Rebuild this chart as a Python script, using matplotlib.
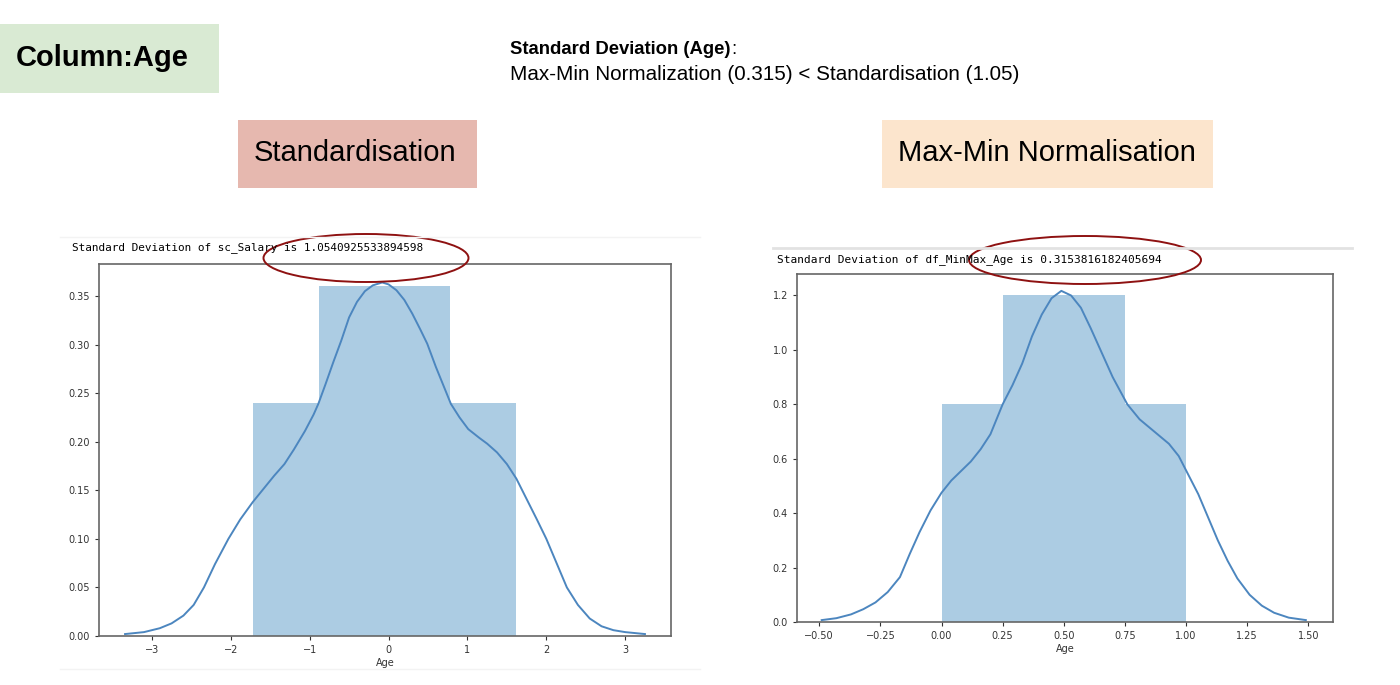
import matplotlib
matplotlib.use('Agg')
import matplotlib.pyplot as plt
from matplotlib.patches import Rectangle, Ellipse
from matplotlib.lines import Line2D

# histogram data (density)
std_bins = [-1.72, -0.885, -0.05, 0.785, 1.62]
std_heights = [0.24, 0.36, 0.36, 0.24]
mm_bins = [0.0, 0.25, 0.5, 0.75, 1.0]
mm_heights = [0.8, 1.2, 1.2, 0.8]

# kde curves
std_kde_x = [-3.34, -3.1, -2.9, -2.75, -2.6, -2.47, -2.34, -2.2, -2.03, -1.88, -1.72, -1.58,
             -1.45, -1.32, -1.2, -1.06, -0.95, -0.89, -0.8, -0.7, -0.6, -0.5, -0.4, -0.3,
             -0.2, -0.08, 0.0, 0.1, 0.2, 0.3, 0.4, 0.49, 0.6, 0.7, 0.79, 0.9, 1.01, 1.15,
             1.25, 1.375, 1.5, 1.62, 1.75, 1.88, 2.0, 2.13, 2.26, 2.4, 2.55, 2.7, 2.85,
             3.0, 3.25]
std_kde_y = [0.002, 0.004, 0.008, 0.013, 0.021, 0.032, 0.050, 0.074, 0.100, 0.120, 0.138, 0.152,
             0.165, 0.177, 0.192, 0.211, 0.228, 0.239, 0.259, 0.282, 0.304, 0.328, 0.344, 0.355,
             0.361, 0.364, 0.362, 0.356, 0.346, 0.332, 0.316, 0.301, 0.277, 0.257, 0.239, 0.225,
             0.213, 0.204, 0.198, 0.189, 0.177, 0.162, 0.141, 0.120, 0.100, 0.075, 0.050, 0.032,
             0.018, 0.010, 0.006, 0.004, 0.002]
mm_kde_x = [-0.49, -0.43, -0.37, -0.32, -0.27, -0.22, -0.17, -0.13, -0.09, -0.045, 0.0, 0.04,
            0.08, 0.12, 0.16, 0.2, 0.25, 0.29, 0.33, 0.37, 0.41, 0.45, 0.49, 0.53, 0.57, 0.61,
            0.65, 0.7, 0.76, 0.81, 0.87, 0.93, 0.97, 1.01, 1.05, 1.09, 1.13, 1.17, 1.21, 1.26,
            1.31, 1.36, 1.42, 1.49]
mm_kde_y = [0.007, 0.014, 0.028, 0.047, 0.072, 0.11, 0.165, 0.25, 0.33, 0.41, 0.475, 0.52,
            0.555, 0.59, 0.635, 0.69, 0.80, 0.87, 0.95, 1.05, 1.13, 1.19, 1.217, 1.20, 1.155, 1.08,
            1.00, 0.90, 0.80, 0.745, 0.70, 0.655, 0.61, 0.54, 0.47, 0.385, 0.30, 0.225, 0.16, 0.10,
            0.06, 0.034, 0.016, 0.007]

std_xticks = [-3, -2, -1, 0, 1, 2, 3]
std_yticks = [0.0, 0.05, 0.10, 0.15, 0.20, 0.25, 0.30, 0.35]
mm_xticks = [-0.5, -0.25, 0.0, 0.25, 0.5, 0.75, 1.0, 1.25, 1.5]
mm_yticks = [0.0, 0.2, 0.4, 0.6, 0.8, 1.0, 1.2]

W, H = 1400, 685
fig = plt.figure(figsize=(14, 6.85), dpi=100)


def px(x, y):
    return x / W, 1 - y / H


def box(x0, y0, x1, y1, color):
    fig.patches.append(Rectangle(px(x0, y1), (x1 - x0) / W, (y1 - y0) / H,
                                 transform=fig.transFigure, facecolor=color,
                                 edgecolor='none', zorder=0))


sans = 'Liberation Sans'
box(0, 24, 219, 93, '#d9ead3')
fig.text(*px(16, 58), 'Column:Age', fontsize=21, fontweight='bold', family=sans, va='center')
box(238, 120, 477, 188, '#e6b8af')
fig.text(*px(355, 153), 'Standardisation', fontsize=21, family=sans, ha='center', va='center')
box(882, 120, 1213, 188, '#fce5cd')
fig.text(*px(1047, 153), 'Max-Min Normalisation', fontsize=21, family=sans, ha='center', va='center')

head = fig.text(*px(510, 50), 'Standard Deviation (Age)', fontsize=13.3, fontweight='bold',
                family=sans, va='center')
fig.canvas.draw()
bb = head.get_window_extent(fig.canvas.get_renderer())
fig.text(bb.x1 / W + 0.0005, 1 - 50 / H, ':', fontsize=13.3, family=sans, va='center')
fig.text(*px(510, 75), 'Max-Min Normalization (0.315) < Standardisation (1.05)', fontsize=14.9,
         family=sans, va='center')

# screenshot separator lines
fig.add_artist(Line2D([60 / W, 700 / W], [1 - 237 / H] * 2, transform=fig.transFigure, color='#f3f3f3', lw=1))
fig.add_artist(Line2D([773 / W, 1352 / W], [1 - 248 / H] * 2, transform=fig.transFigure, color='#e2e2e2', lw=2))
fig.add_artist(Line2D([60 / W, 700 / W], [1 - 669 / H] * 2, transform=fig.transFigure, color='#f3f3f3', lw=1))

mono = 'DejaVu Sans Mono'
fig.text(*px(72, 248), 'Standard Deviation of sc_Salary is 1.0540925533894598', fontsize=7.9, family=mono, va='center')
fig.text(*px(777, 260), 'Standard Deviation of df_MinMax_Age is 0.3153816182405694', fontsize=8, family=mono, va='center')

bar_col = '#1f77b4'
line_col = '#4c86bf'


def panel(rect, bins, heights, kx, ky, xlim, ylim, xticks, yticks, xfmt, yfmt):
    ax = fig.add_axes(rect)
    lefts = bins[:-1]
    widths = [b - a for a, b in zip(bins[:-1], bins[1:])]
    ax.bar(lefts, heights, width=widths, align='edge', color=bar_col, alpha=0.37, linewidth=0)
    ax.plot(kx, ky, color=line_col, lw=1.4)
    ax.set_xlim(*xlim)
    ax.set_ylim(*ylim)
    ax.set_xticks(xticks)
    ax.set_xticklabels([xfmt.format(t).replace('-', '\u2212') for t in xticks])
    ax.set_yticks(yticks)
    ax.set_yticklabels([yfmt.format(t) for t in yticks])
    ax.tick_params(labelsize=7, colors='#333333', length=3, width=0.8)
    for s in ax.spines.values():
        s.set_color('#666666')
        s.set_linewidth(1.2)
    ax.set_xlabel('Age', fontsize=7, color='#333333', labelpad=2)
    return ax


panel([99 / W, 49 / H, 572 / W, 372 / H], std_bins, std_heights, std_kde_x, std_kde_y,
      (-3.67, 3.58), (0, 0.383), std_xticks, std_yticks, '{:g}', '{:.2f}')
panel([797 / W, 63 / H, 536 / W, 348 / H], mm_bins, mm_heights, mm_kde_x, mm_kde_y,
      (-0.591, 1.601), (0, 1.279), mm_xticks, mm_yticks, '{:.2f}', '{:.1f}')

# red highlight ellipses
for cx, cy, w, h in [(366, 258, 205, 48), (1085, 260, 232, 48)]:
    fig.add_artist(Ellipse(px(cx, cy), w / W, h / H, transform=fig.transFigure,
                           fill=False, edgecolor='#8e1111', lw=1.4))

fig.savefig('out.png', dpi=100)
